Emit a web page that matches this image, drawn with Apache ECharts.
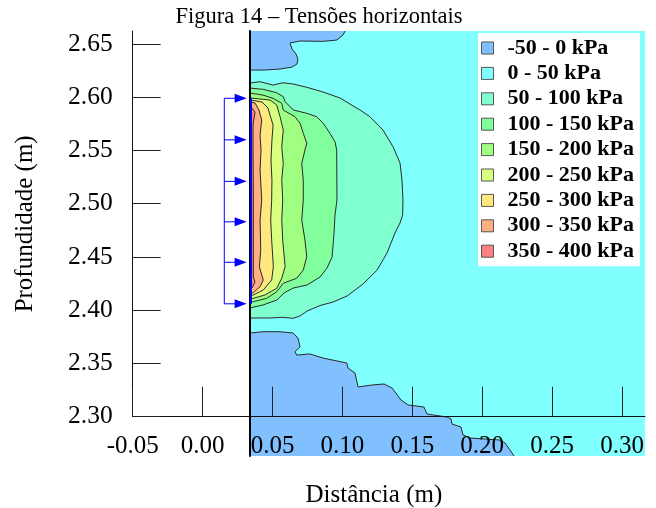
<!DOCTYPE html>
<html><head><meta charset="utf-8">
<script src="https://cdn.jsdelivr.net/npm/echarts@6/dist/echarts.min.js"></script>
<style>html,body{margin:0;padding:0;background:#fff}#c{width:656px;height:508px}</style>
</head><body><div id="c"></div>
<script>
// ---------- data ----------
const levelNames = ['-50 - 0 kPa','0 - 50 kPa','50 - 100 kPa','100 - 150 kPa','150 - 200 kPa','200 - 250 kPa','250 - 300 kPa','300 - 350 kPa','350 - 400 kPa'];
const xTicks = [-0.05, 0.00, 0.05, 0.10, 0.15, 0.20, 0.25, 0.30];
const yTicks = [2.30, 2.35, 2.40, 2.45, 2.50, 2.55, 2.60, 2.65];
const xRange = [-0.05, 0.3164];
const yRange = [2.30, 2.6622];
// extent of the contour field (distance, depth)
const domainX = [0.0339, 0.3164];
const domainY = [2.2631, 2.6622];

// -50..0 kPa zone near the top (from wall to top edge)
const blueTop = [[0.0339,2.6255],[0.0432,2.6255],[0.0554,2.6265],[0.0640,2.6283],[0.0675,2.6312],[0.0682,2.6359],[0.0668,2.6406],[0.0640,2.6452],[0.0625,2.6509],[0.0697,2.6528],[0.0860,2.6525],[0.0960,2.6537],[0.1004,2.6584],[0.1019,2.6622]];
// -50..0 kPa zone at the bottom (from wall to bottom edge)
const blueBottom = [[0.0339,2.3786],[0.0432,2.3798],[0.0554,2.3798],[0.0647,2.3786],[0.0682,2.3739],[0.0697,2.3657],[0.0661,2.3610],[0.0673,2.3579],[0.0768,2.3589],[0.0861,2.3551],[0.1031,2.3504],[0.1040,2.3457],[0.1090,2.3410],[0.1112,2.3279],[0.1212,2.3298],[0.1298,2.3307],[0.1355,2.3269],[0.1419,2.3157],[0.1469,2.3110],[0.1583,2.3091],[0.1605,2.3025],[0.1748,2.2997],[0.1777,2.2978],[0.1784,2.2931],[0.1848,2.2903],[0.1863,2.2828],[0.1913,2.2800],[0.2127,2.2781],[0.2163,2.2753],[0.2199,2.2687],[0.2227,2.2631]];
// iso-stress curves (start and end on the wall)
const iso50 = [[0.0339,2.6133],[0.0411,2.6146],[0.0504,2.6114],[0.0575,2.6136],[0.0647,2.6124],[0.0747,2.6093],[0.0861,2.6049],[0.0983,2.5993],[0.1054,2.5936],[0.1126,2.5880],[0.1197,2.5817],[0.1290,2.5692],[0.1362,2.5535],[0.1412,2.5382],[0.1426,2.5222],[0.1433,2.5035],[0.1431,2.4894],[0.1412,2.4819],[0.1376,2.4725],[0.1319,2.4537],[0.1248,2.4377],[0.1147,2.4246],[0.1033,2.4133],[0.0933,2.4077],[0.0840,2.4044],[0.0747,2.3992],[0.0697,2.3946],[0.0647,2.3924],[0.0575,2.3933],[0.0482,2.3927],[0.0339,2.3927]];
const iso100 = [[0.0339,2.6086],[0.0434,2.6074],[0.0530,2.6042],[0.0577,2.6005],[0.0590,2.5958],[0.0649,2.5880],[0.0745,2.5849],[0.0816,2.5817],[0.0863,2.5755],[0.0911,2.5661],[0.0947,2.5582],[0.0959,2.5504],[0.0961,2.5035],[0.0947,2.4894],[0.0940,2.4725],[0.0926,2.4500],[0.0890,2.4396],[0.0840,2.4312],[0.0747,2.4237],[0.0647,2.4208],[0.0582,2.4162],[0.0532,2.4096],[0.0432,2.4049],[0.0339,2.4021]];
const iso150 = [[0.0339,2.6039],[0.0432,2.6020],[0.0504,2.5990],[0.0566,2.5943],[0.0577,2.5880],[0.0661,2.5817],[0.0697,2.5755],[0.0720,2.5661],[0.0745,2.5567],[0.0732,2.5504],[0.0709,2.5379],[0.0720,2.5222],[0.0720,2.5035],[0.0709,2.4847],[0.0732,2.4659],[0.0745,2.4502],[0.0720,2.4377],[0.0673,2.4300],[0.0577,2.4253],[0.0530,2.4174],[0.0459,2.4112],[0.0363,2.4080],[0.0339,2.4074]];
const iso200 = [[0.0339,2.5993],[0.0482,2.5974],[0.0530,2.5927],[0.0554,2.5817],[0.0577,2.5692],[0.0566,2.5535],[0.0577,2.5379],[0.0566,2.5222],[0.0573,2.5035],[0.0566,2.4847],[0.0573,2.4659],[0.0590,2.4408],[0.0566,2.4300],[0.0530,2.4206],[0.0446,2.4143],[0.0363,2.4112],[0.0339,2.4105]];
const iso250 = [[0.0339,2.5974],[0.0425,2.5955],[0.0468,2.5898],[0.0482,2.5833],[0.0504,2.5739],[0.0496,2.5598],[0.0489,2.5410],[0.0496,2.5222],[0.0494,2.5035],[0.0487,2.4847],[0.0494,2.4659],[0.0506,2.4408],[0.0494,2.4284],[0.0434,2.4190],[0.0363,2.4143],[0.0339,2.4136]];
const iso300 = [[0.0339,2.5955],[0.0375,2.5946],[0.0403,2.5880],[0.0423,2.5786],[0.0411,2.5645],[0.0418,2.5504],[0.0411,2.5316],[0.0423,2.5035],[0.0411,2.4847],[0.0416,2.4565],[0.0406,2.4408],[0.0434,2.4284],[0.0411,2.4221],[0.0363,2.4164],[0.0339,2.4159]];
const iso350 = [[0.0339,2.5927],[0.0353,2.5898],[0.0375,2.5861],[0.0368,2.5805],[0.0361,2.5739],[0.0361,2.5504],[0.0363,2.5035],[0.0363,2.4565],[0.0363,2.4312],[0.0375,2.4265],[0.0353,2.4208],[0.0339,2.4190]];
// applied horizontal load (arrows)
const arrowDepths = [2.599, 2.560, 2.521, 2.483, 2.445, 2.406];
const arrowTail = 0.0155;
const arrowTip = 0.0315;

// ---------- styles ----------
const colors = ['#80c0ff','#80ffff','#80ffd0','#80ff9c','#a0ff80','#d8ff80','#ffe880','#ffb080','#ff8080'];
const serif = 'Liberation Serif';

function regionSeries(idx, curve, closing, stroke) {
  const color = colors[idx];
  return {
    type: 'custom', name: levelNames[idx], coordinateSystem: 'cartesian2d',
    xAxisIndex: 1, yAxisIndex: 1, silent: true, z: 2,
    itemStyle: { color: color },
    data: [[domainX[0], domainY[0]]],
    renderItem: function (params, api) {
      const poly = curve.concat(closing).map(p => api.coord(p));
      const children = [{ type: 'polygon', shape: { points: poly }, style: { fill: color, stroke: null } }];
      if (stroke) {
        children.push({ type: 'polyline', shape: { points: curve.map(p => api.coord(p)) },
          style: { stroke: '#2a2a2a', lineWidth: 1, fill: null } });
      }
      return { type: 'group', children: children };
    }
  };
}

const domainRect = [[domainX[0], domainY[1]], [domainX[1], domainY[1]], [domainX[1], domainY[0]], [domainX[0], domainY[0]]];

const series = [
  regionSeries(1, domainRect, [], false),
  regionSeries(0, blueTop, [[domainX[0], domainY[1]]], true),
  regionSeries(0, blueBottom, [[domainX[0], domainY[0]]], true),
  regionSeries(2, iso50, [], true),
  regionSeries(3, iso100, [], true),
  regionSeries(4, iso150, [], true),
  regionSeries(5, iso200, [], true),
  regionSeries(6, iso250, [], true),
  regionSeries(7, iso300, [], true),
  regionSeries(8, iso350, [], true),
  {
    type: 'custom', name: 'load', coordinateSystem: 'cartesian2d', xAxisIndex: 0, yAxisIndex: 0,
    silent: true, z: 20, legendHoverLink: false,
    data: [[arrowTail, arrowDepths[0]]],
    renderItem: function (params, api) {
      const blue = '#0000ff';
      const top = arrowDepths[0], bot = arrowDepths[arrowDepths.length - 1];
      const children = [];
      const t0 = api.coord([arrowTail, top]), t1 = api.coord([arrowTail, bot]);
      children.push({ type: 'line', shape: { x1: t0[0], y1: t0[1], x2: t1[0], y2: t1[1] }, style: { stroke: blue, lineWidth: 1 } });
      const w0 = api.coord([domainX[0], top]), w1 = api.coord([domainX[0], bot]);
      children.push({ type: 'line', shape: { x1: w0[0] + 1, y1: w0[1], x2: w1[0] + 1, y2: w1[1] }, style: { stroke: blue, lineWidth: 2 } });
      arrowDepths.forEach(d => {
        const a = api.coord([arrowTail, d]), b = api.coord([arrowTip, d]);
        children.push({ type: 'line', shape: { x1: a[0], y1: a[1], x2: b[0] - 10, y2: b[1] }, style: { stroke: blue, lineWidth: 1 } });
        children.push({ type: 'polygon', shape: { points: [[b[0], b[1]], [b[0] - 12, b[1] - 4.5], [b[0] - 12, b[1] + 4.5]] }, style: { fill: blue } });
      });
      return { type: 'group', children: children };
    }
  }
];

const chart = echarts.init(document.getElementById('c'), null, { renderer: 'canvas' });
chart.setOption({
  animation: false,
  backgroundColor: '#fff',
  title: {
    text: 'Figura 14 – Tensões horizontais', left: 314, top: 1, textAlign: 'center',
    textStyle: { fontFamily: serif, fontSize: 22.5, fontWeight: 'normal', color: '#000' }
  },
  legend: {
    orient: 'vertical', left: 478, top: 33, padding: [4, 6, 4, 3],
    backgroundColor: '#fff', icon: 'rect', itemWidth: 12, itemHeight: 12, itemGap: 3.4,
    selectedMode: false,
    textStyle: { fontFamily: serif, fontSize: 22, fontWeight: 'bold', color: '#000', lineHeight: 21, padding: [0, 0, 0, 9] },
    data: levelNames.map((n, i) => ({ name: n, itemStyle: { color: colors[i], borderColor: '#555', borderWidth: 1 } }))
  },
  grid: [
    { left: 132.7, right: 11, top: 31, bottom: 91.3, containLabel: false, outerBoundsMode: 'none' },
    { left: 250, right: 11, top: 31, bottom: 52, containLabel: false, outerBoundsMode: 'none' }
  ],
  xAxis: [
    {
      type: 'value', gridIndex: 0, min: xRange[0], max: xRange[1], interval: 0.05, z: 10,
      axisLine: { show: true, onZero: false, lineStyle: { color: '#111', width: 1 } },
      axisTick: { show: true, inside: true, length: 30, lineStyle: { color: '#222' }, customValues: xTicks },
      axisLabel: { show: true, margin: 17, color: '#000', fontFamily: serif, fontSize: 25, customValues: xTicks, formatter: v => v.toFixed(2) },
      splitLine: { show: false },
      name: 'Distância (m)', nameLocation: 'middle', nameGap: 66,
      nameTextStyle: { fontFamily: serif, fontSize: 25, color: '#000', padding: [0, 30, 0, 0] }
    },
    {
      type: 'value', gridIndex: 1, min: domainX[0], max: domainX[1], show: false
    }
  ],
  yAxis: [
    {
      type: 'value', gridIndex: 0, min: yRange[0], max: yRange[1], interval: 0.05, z: 10,
      axisLine: { show: true, onZero: false, lineStyle: { color: '#111', width: 1 } },
      axisTick: { show: true, inside: true, length: 28, lineStyle: { color: '#222' }, customValues: yTicks },
      axisLabel: { show: true, margin: 20, color: '#000', fontFamily: serif, fontSize: 25.5, customValues: yTicks, formatter: v => v.toFixed(2) },
      splitLine: { show: false },
      name: 'Profundidade (m)', nameLocation: 'middle', nameGap: 95, nameRotate: 90,
      nameTextStyle: { fontFamily: serif, fontSize: 25, color: '#000' }
    },
    {
      type: 'value', gridIndex: 1, min: domainY[0], max: domainY[1], z: 10,
      axisLine: { show: true, onZero: false, lineStyle: { color: '#000', width: 2 } },
      axisTick: { show: false }, axisLabel: { show: false }, splitLine: { show: false }
    }
  ],
  series: series
});
</script>
</body></html>
